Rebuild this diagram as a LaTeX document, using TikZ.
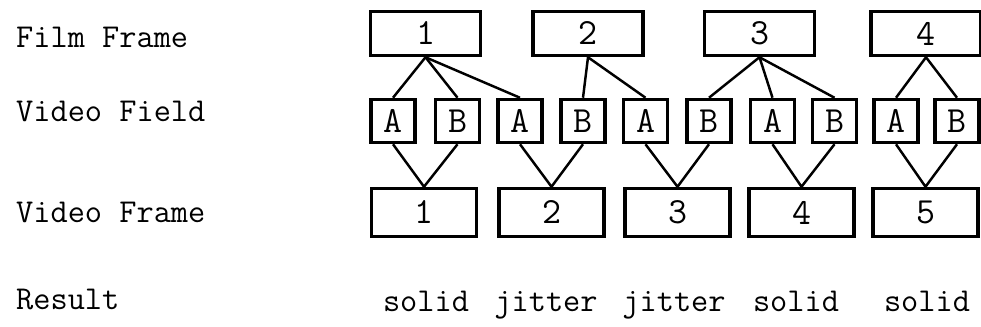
\documentclass[tikz,border=0pt]{standalone}
\usetikzlibrary{positioning}

\begin{document}
\begin{tikzpicture}[
  x=0.2mm, y=-0.2mm,
  every node/.style={font=\ttfamily\fontsize{19}{22}\selectfont},
  filmbox/.style={draw, line width=2pt, minimum width=22mm, minimum height=8.8mm, inner sep=0pt, font=\ttfamily\fontsize{21}{22}\selectfont},
  fieldbox/.style={draw, line width=2pt, minimum width=8.8mm, minimum height=8.6mm, inner sep=0pt, font=\ttfamily\fontsize{21}{22}\selectfont},
  vidbox/.style={draw, line width=2pt, minimum width=21mm, minimum height=9.6mm, inner sep=0pt, font=\ttfamily\fontsize{21}{22}\selectfont},
  link/.style={line width=1.4pt}
]
  \useasboundingbox (0,0) rectangle (981,327);

  % row labels
  \node[anchor=base west] (lfilm) at (10,48) {Film Frame};
  \node[anchor=base west] (lfield) at (10,122) {Video Field};
  \node[anchor=base west] (lvideo) at (10,223) {Video Frame};
  \node[anchor=base west] (lresult) at (10,310) {Result};

  % film frames
  \node[filmbox] (F1) at (425.5,33.5) {1};
  \node[filmbox] (F2) at (588,33.5) {2};
  \node[filmbox] (F3) at (759.5,33.5) {3};
  \node[filmbox] (F4) at (926,33.5) {4};

  % video fields
  \node[fieldbox] (A1) at (393,121) {A};
  \node[fieldbox] (B1) at (457.5,121) {B};
  \node[fieldbox] (A2) at (520,121) {A};
  \node[fieldbox] (B2) at (583,121) {B};
  \node[fieldbox] (A3) at (645.5,121) {A};
  \node[fieldbox] (B3) at (709,121) {B};
  \node[fieldbox] (A4) at (772.5,121) {A};
  \node[fieldbox] (B4) at (834.5,121) {B};
  \node[fieldbox] (A5) at (896,121) {A};
  \node[fieldbox] (B5) at (957,121) {B};

  % video frames
  \node[vidbox] (V1) at (424,212.5) {1};
  \node[vidbox] (V2) at (551.5,212.5) {2};
  \node[vidbox] (V3) at (677.5,212.5) {3};
  \node[vidbox] (V4) at (801.5,212.5) {4};
  \node[vidbox] (V5) at (925.5,212.5) {5};

  % results
  \node[anchor=base] (R1) at (426,312) {solid};
  \node[anchor=base] (R2) at (546,312) {jitter};
  \node[anchor=base] (R3) at (674,312) {jitter};
  \node[anchor=base] (R4) at (796,312) {solid};
  \node[anchor=base] (R5) at (927,312) {solid};

  % film frame -> fields
  \draw[link] (F1.south) -- (A1.north);
  \draw[link] (F1.south) -- (B1.north);
  \draw[link] (F1.south) -- (A2.north);
  \draw[link] (F2.south) -- (B2.north);
  \draw[link] (F2.south) -- (A3.north);
  \draw[link] (F3.south) -- (B3.north);
  \draw[link] (F3.south) -- (A4.north);
  \draw[link] (F3.south) -- (B4.north);
  \draw[link] (F4.south) -- (A5.north);
  \draw[link] (F4.south) -- (B5.north);

  % fields -> video frames
  \draw[link] (A1.south) -- (V1.north) -- (B1.south);
  \draw[link] (A2.south) -- (V2.north) -- (B2.south);
  \draw[link] (A3.south) -- (V3.north) -- (B3.south);
  \draw[link] (A4.south) -- (V4.north) -- (B4.south);
  \draw[link] (A5.south) -- (V5.north) -- (B5.south);
\end{tikzpicture}
\end{document}
